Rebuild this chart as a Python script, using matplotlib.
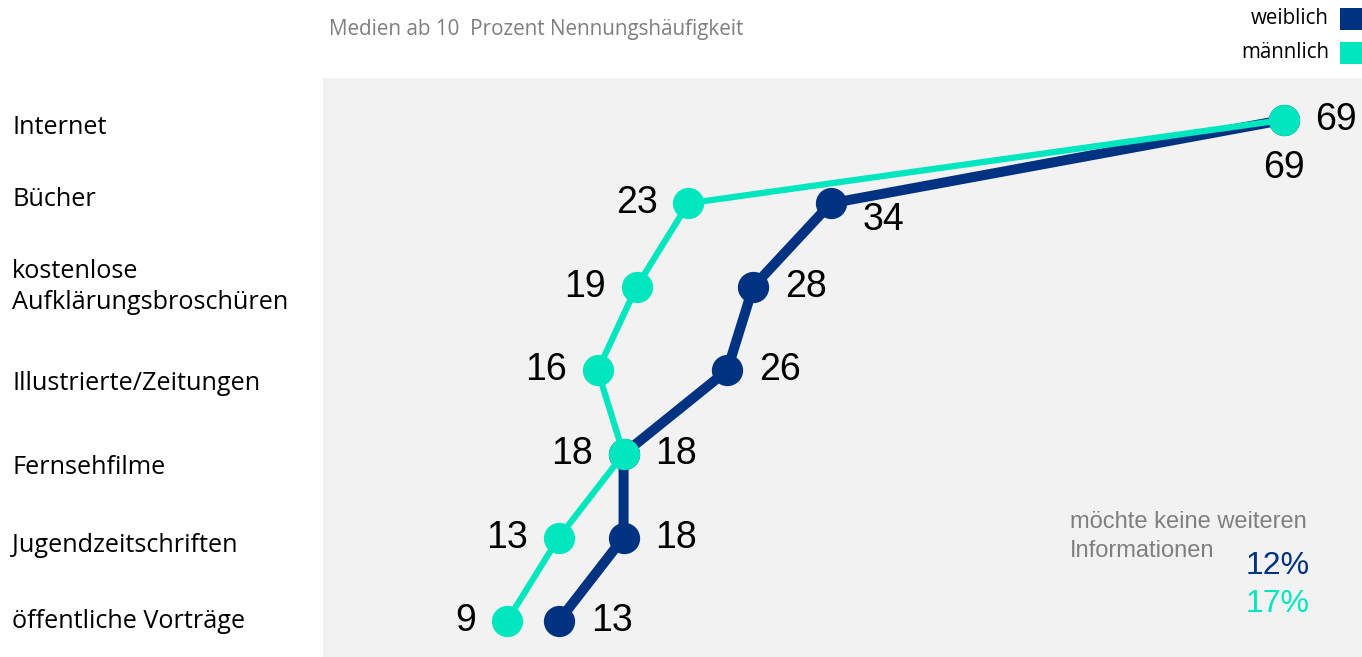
import matplotlib
matplotlib.use("Agg")
import matplotlib.pyplot as plt
from matplotlib.patches import Rectangle

kategorien = ["Internet", "Bücher", "kostenlose\nAufklärungsbroschüren",
              "Illustrierte/Zeitungen", "Fernsehfilme", "Jugendzeitschriften",
              "öffentliche Vorträge"]
weiblich = [69, 34, 28, 26, 18, 18, 13]
maennlich = [69, 23, 19, 16, 18, 13, 9]
keine_info = {"weiblich": 12, "männlich": 17}

# Lage der Beschriftungen links (Pixel von oben), wie im Original leicht versetzt
label_y_px = [127, 200, 287, 383, 468, 546, 622]

NAVY = "#003282"
MINT = "#00E6BE"
GRAU_BG = "#F2F2F2"
GRAU_TXT = "#7F7F7F"
W, H = 1362, 657

fig = plt.figure(figsize=(W / 100, H / 100), dpi=100)
ax = fig.add_axes([323 / W, 0, 1 - 323 / W, 1 - 78 / H])
ax.set_facecolor(GRAU_BG)
for s in ax.spines.values():
    s.set_visible(False)
ax.set_xticks([])
ax.set_yticks([])

y = list(range(len(kategorien)))
ax.plot(weiblich, y, color=NAVY, lw=7.2, marker="o", ms=21.5, zorder=2)
ax.plot(maennlich, y, color=MINT, lw=4.5, marker="o", ms=21.5, zorder=3)
ax.set_xlim(-5.2, 75)
ax.set_ylim(6.43, -0.5)

num_font = dict(family="Liberation Sans", fontsize=27, color="black")
for i, (w, m) in enumerate(zip(weiblich, maennlich)):
    if i == 0:
        ax.annotate(str(w), (w, i), xytext=(0, -35), textcoords="offset points",
                    ha="center", va="center", **num_font)
        ax.annotate(str(m), (m, i), xytext=(22, 0), textcoords="offset points",
                    ha="left", va="center", **num_font)
    else:
        ax.annotate(str(w), (w, i), xytext=(23, -12 if i == 1 else 0),
                    textcoords="offset points", ha="left", va="center", **num_font)
        ax.annotate(str(m), (m, i), xytext=(-22, 0), textcoords="offset points",
                    ha="right", va="center", **num_font)

# Kategorienbeschriftung links
for k, yp in zip(kategorien, label_y_px):
    fig.text(12 / W, 1 - yp / H, k, ha="left", va="center",
             fontsize=18.2, family="Open Sans", color="black", linespacing=1.35)

fig.text(329 / W, 1 - 30 / H, "Medien ab 10  Prozent Nennungshäufigkeit",
         ha="left", va="center", fontsize=14.9, family="Open Sans", color=GRAU_TXT)

# Legende oben rechts
for lab, col, yc in [("weiblich", NAVY, 19), ("männlich", MINT, 53)]:
    fig.text(1329 / W, 1 - yc / H, lab, ha="right", va="center",
             fontsize=14.8, family="Open Sans", color="black")
    fig.patches.append(Rectangle((1340 / W, 1 - (yc + 11) / H), 22 / W,
                                 22 / H, transform=fig.transFigure,
                                 facecolor=col, edgecolor="none"))

for txt, yp in [("möchte keine weiteren", 522), ("Informationen", 551)]:
    fig.text(1070 / W, 1 - yp / H, txt, ha="left", va="center", fontsize=17,
             family="Liberation Sans", color=GRAU_TXT)
fig.text(1310 / W, 1 - 566 / H, f"{keine_info['weiblich']}%", ha="right",
         va="center", fontsize=23, family="Liberation Sans", color=NAVY)
fig.text(1310 / W, 1 - 604 / H, f"{keine_info['männlich']}%", ha="right",
         va="center", fontsize=23, family="Liberation Sans", color=MINT)

fig.savefig("out.png", dpi=100, facecolor="white")
